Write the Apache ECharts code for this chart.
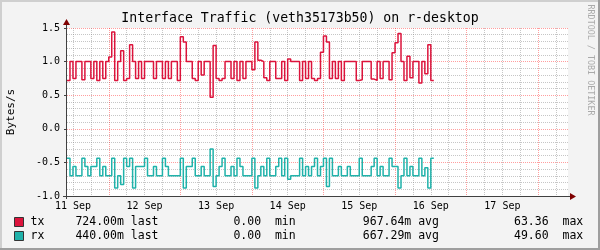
<!DOCTYPE html>
<html><head><meta charset="utf-8">
<script src="https://cdn.jsdelivr.net/npm/echarts@6/dist/echarts.min.js"></script>
<style>html,body{margin:0;padding:0;background:#f3f3f3}#c{width:600px;height:250px}</style>
</head><body><div id="c"></div><script>
// ---- text ----
const chartTitle = 'Interface Traffic (veth35173b50) on r-desktop';
const yAxisName = 'Bytes/s';
const watermark = 'RRDTOOL / TOBI OETIKER';
// ---- time axis (hours after 11 Sep 00:00) ----
const axisStartHour = 10;
const axisEndHour = 178;
const dataStartHour = 10;
const dayLabels = ['11 Sep', '12 Sep', '13 Sep', '14 Sep', '15 Sep', '16 Sep', '17 Sep'];
const dayLabelHours = [12, 36, 60, 84, 108, 132, 156];
const midnightHours = [24, 48, 72, 96, 120, 144, 168];
const sixHourHours = [12, 18, 30, 36, 42, 54, 60, 66, 78, 84, 90, 102, 108, 114, 126, 132, 138, 150, 156, 162, 174];
// ---- value axis ----
const yMin = -1.0, yMax = 1.5, yStep = 0.5;
// ---- series (hourly values, Bytes/s) ----
const txValues = [
  0.72,1,0.75,1,1,0.73,1,1,0.75,1,
  0.72,1,0.75,1,1.07,1.44,0.72,1,1.16,0.72,
  0.75,1.25,1,0.75,1,0.75,1,1,1,0.75,
  1,1,0.75,1,0.75,1,1,0.72,1.37,1.29,
  1,1,0.75,0.72,1,0.8,1,1,0.47,1.24,
  0.75,0.72,0.75,1,1,0.75,1,0.72,1,0.75,
  1,1,0.88,1.29,1.02,1,0.76,0.72,1,1,
  0.75,0.75,1,0.72,1.04,1,1,1,0.72,1,
  0.75,1,0.75,0.72,0.75,1.14,1.38,1.29,0.75,1,
  0.75,1,0.72,1,1,1,1,0.72,0.73,1,
  1,1,0.74,0.72,1,0.75,1,1,0.73,1.13,
  1.28,1.42,1,0.72,1.08,0.76,1,1,0.68,1,
  0.82,1.25,0.72
];
const rxValues = [
  0.44,0.7,0.56,0.7,0.7,0.44,0.56,0.7,0.56,0.56,
  0.44,0.7,0.56,0.7,0.7,0.44,0.88,0.7,0.83,0.44,
  0.56,0.44,0.88,0.56,0.56,0.56,0.44,0.7,0.7,0.56,
  0.7,0.7,0.44,0.56,0.7,0.7,0.7,0.7,0.44,0.88,
  0.56,0.56,0.44,0.7,0.7,0.56,0.7,0.7,0.3,0.86,
  0.7,0.56,0.44,0.7,0.7,0.56,0.7,0.44,0.56,0.7,
  0.7,0.7,0.44,0.88,0.7,0.56,0.7,0.44,0.7,0.7,
  0.56,0.44,0.7,0.44,0.75,0.7,0.7,0.7,0.44,0.7,
  0.56,0.7,0.56,0.44,0.7,0.56,0.44,0.86,0.44,0.7,
  0.7,0.56,0.7,0.7,0.56,0.7,0.7,0.7,0.44,0.7,
  0.7,0.7,0.56,0.44,0.7,0.56,0.7,0.7,0.44,0.56,
  0.56,0.88,0.7,0.44,0.7,0.56,0.7,0.7,0.44,0.7,
  0.58,0.88,0.44
];
// ---- legend ----
const seriesNames = ['tx', 'rx'];
const seriesColors = ['#dc143c', '#20b2aa'];
const lastVals = ['724.00m last', '440.00m last'];
const minVals = ['0.00  min', '0.00  min'];
const avgVals = ['967.64m avg', '667.29m avg'];
const maxVals = ['63.36  max', '49.60  max'];

// ---- layout ----
const G = {left: 67, top: 28, width: 501, height: 168};
const MONO = '"DejaVu Sans Mono", monospace';
const AXIS_COLOR = '#404040', ARROW_COLOR = '#7f0000';
const MGRID = 'rgba(255,0,0,0.38)', NGRID = 'rgba(128,128,128,0.45)';

function stepData(vals, sign) {
  const d = vals.map((v, i) => [dataStartHour + i, sign * v]);
  d.push([dataStartHour + vals.length, sign * vals[vals.length - 1]]);
  return d;
}

const chart = echarts.init(document.getElementById('c'), null, {renderer: 'canvas'});
const gx0 = G.left, gy1 = G.top + G.height, gx1 = G.left + G.width, gy0 = G.top;

const graphics = [
  // bevel
  {type: 'rect', shape: {x: 0, y: 0, width: 600, height: 2}, style: {fill: '#cfcfcf'}, z: 100},
  {type: 'rect', shape: {x: 0, y: 0, width: 2, height: 250}, style: {fill: '#cfcfcf'}, z: 100},
  {type: 'rect', shape: {x: 0, y: 248, width: 600, height: 2}, style: {fill: '#9e9e9e'}, z: 101},
  {type: 'rect', shape: {x: 598, y: 0, width: 2, height: 250}, style: {fill: '#9e9e9e'}, z: 101},
  // title
  {type: 'text', style: {text: chartTitle, x: 300, y: 19, align: 'center', verticalAlign: 'middle', font: '13.2px ' + MONO, fill: '#000'}, z: 50},
  // y axis name
  {type: 'text', x: 11, y: 112, rotation: Math.PI / 2, style: {text: yAxisName, x: 0, y: 0, align: 'center', verticalAlign: 'middle', font: '11px ' + MONO, fill: '#000'}, z: 50},
  // watermark
  {type: 'text', x: 590.5, y: 60, rotation: -Math.PI / 2, style: {text: watermark, x: 0, y: 0, align: 'center', verticalAlign: 'middle', font: '8.4px ' + MONO, fill: '#aaaaaa'}, z: 50},
  // axes
  {type: 'line', shape: {x1: 63, y1: gy1 + 0.5, x2: gx1 + 3, y2: gy1 + 0.5}, style: {stroke: AXIS_COLOR, lineWidth: 1}, z: 60},
  {type: 'line', shape: {x1: gx0 - 0.5, y1: gy1 + 3, x2: gx0 - 0.5, y2: gy0 - 4}, style: {stroke: AXIS_COLOR, lineWidth: 1}, z: 60},
  {type: 'polygon', shape: {points: [[gx1 + 2, gy1 - 3], [gx1 + 8, gy1 + 0.5], [gx1 + 2, gy1 + 4]]}, style: {fill: ARROW_COLOR}, z: 61},
  {type: 'polygon', shape: {points: [[gx0 - 4, gy0 - 3], [gx0 - 0.5, gy0 - 9], [gx0 + 3, gy0 - 3]]}, style: {fill: ARROW_COLOR}, z: 61}
];
// legend rows
const rowY = [222, 236];
seriesNames.forEach((n, i) => {
  graphics.push({type: 'rect', shape: {x: 14.5, y: rowY[i] - 4.5, width: 9, height: 9}, style: {fill: seriesColors[i], stroke: '#333', lineWidth: 1}, z: 50});
  const cells = [[30.6, n], [75.4, lastVals[i]], [233.4, minVals[i]], [362.8, avgVals[i]], [514, maxVals[i]]];
  cells.forEach(c => graphics.push({type: 'text', style: {text: c[1], x: c[0], y: rowY[i], align: 'left', verticalAlign: 'middle', font: '11.5px ' + MONO, fill: '#000'}, z: 50}));
});

chart.setOption({
  animation: false,
  backgroundColor: '#f3f3f3',
  grid: {left: G.left, top: G.top, width: G.width, height: G.height, show: true, backgroundColor: '#ffffff', borderWidth: 0, containLabel: false},
  xAxis: [{
    type: 'value', min: axisStartHour, max: axisEndHour,
    axisLine: {show: false},
    axisTick: {show: false, customValues: midnightHours},
    splitLine: {show: true, lineStyle: {color: MGRID, type: [1, 1], width: 1}},
    axisLabel: {customValues: dayLabelHours, formatter: v => dayLabels[dayLabelHours.indexOf(v)] || '', fontFamily: MONO, fontSize: 10, color: '#000', margin: 5}
  }, {
    type: 'value', min: axisStartHour, max: axisEndHour, position: 'top',
    axisLine: {show: false},
    axisTick: {show: false, customValues: sixHourHours},
    axisLabel: {show: false},
    splitLine: {show: true, lineStyle: {color: NGRID, type: [1, 1], width: 1}}
  }],
  yAxis: {
    type: 'value', min: yMin, max: yMax, interval: yStep,
    axisLine: {show: false},
    axisTick: {show: true, length: 3, lineStyle: {color: AXIS_COLOR}},
    axisLabel: {formatter: v => v.toFixed(1), fontFamily: MONO, fontSize: 10, color: '#000', margin: 7},
    splitLine: {show: true, lineStyle: {color: MGRID, type: [1, 1], width: 1}},
    minorTick: {show: false, splitNumber: 5},
    minorSplitLine: {show: true, lineStyle: {color: NGRID, type: [1, 1], width: 1}}
  },
  series: [{
    name: 'tx', type: 'line', step: 'end', showSymbol: false, symbol: 'none', z: 3,
    data: stepData(txValues, 1), lineStyle: {color: seriesColors[0], width: 1.5}
  }, {
    name: 'rx', type: 'line', step: 'end', showSymbol: false, symbol: 'none', z: 3,
    data: stepData(rxValues, -1), lineStyle: {color: seriesColors[1], width: 1.5}
  }],
  graphic: graphics
});
</script></body></html>
